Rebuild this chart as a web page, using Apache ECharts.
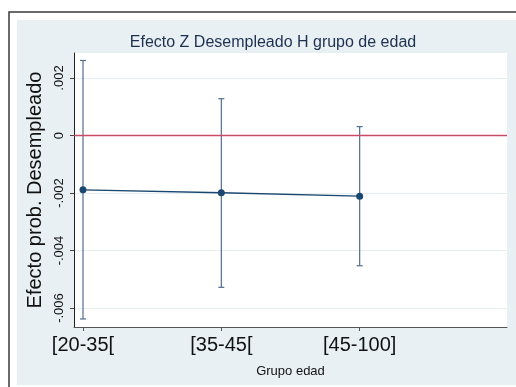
<!DOCTYPE html>
<html>
<head>
<meta charset="utf-8">
<script src="https://cdn.jsdelivr.net/npm/echarts@6/dist/echarts.min.js"></script>
<style>
  html, body { margin: 0; padding: 0; background: #fff; }
</style>
</head>
<body>
<div id="main" style="width: 516px; height: 387px;"></div>
<script>
// grupos de edad (posicion en el eje x y etiqueta)
var groupPos = [1, 2, 3]
var groupLabels = ['[20-35[', '[35-45[', '[45-100]']
// efecto estimado y limites del intervalo
var effect = [-0.00189, -0.00199, -0.00211]
var ciLow = [-0.00638, -0.00528, -0.00453]
var ciHigh = [0.00261, 0.00128, 0.00031]
// marcas del eje y
var yTicks = [-0.006, -0.004, -0.002, 0, 0.002]

function fmtY(v) {
  if (Math.abs(v) < 1e-12) return '0'
  var s = v.toFixed(3)
  return s.replace('0.', '.')
}

var chartDom = document.getElementById('main');
var myChart = echarts.init(chartDom);

var lineData = []
var barData = []
for (var i = 0; i < groupPos.length; i++) {
  lineData.push([groupPos[i], effect[i]])
  barData.push([groupPos[i], ciLow[i], ciHigh[i]])
}

var font = 'Liberation Sans, Arial, sans-serif'

var option = {
  backgroundColor: '#ffffff',
  animation: false,
  graphic: [
    {
      type: 'rect',
      z: -10,
      shape: { x: 9, y: 12, width: 520, height: 390 },
      style: { fill: '#ffffff', stroke: '#3a3a3a', lineWidth: 1.5 }
    },
    {
      type: 'rect',
      z: -9,
      shape: { x: 17, y: 20, width: 499, height: 365 },
      style: { fill: '#e9f0f3' }
    }
  ],
  title: {
    text: 'Efecto Z Desempleado H grupo de edad',
    left: 268,
    top: 30,
    textAlign: 'center',
    textStyle: { fontFamily: font, fontSize: 16, fontWeight: 'normal', color: '#1e3050' }
  },
  grid: {
    left: 74,
    top: 53,
    right: 9,
    bottom: 60,
    show: true,
    backgroundColor: '#ffffff',
    borderWidth: 0
  },
  xAxis: {
    type: 'value',
    min: 0.935,
    max: 4.065,
    name: 'Grupo edad',
    nameLocation: 'middle',
    nameGap: 38,
    nameTextStyle: { fontFamily: font, fontSize: 13, color: '#111' },
    axisLine: { show: true, onZero: false, lineStyle: { color: '#555', width: 1 } },
    axisTick: { show: true, length: 4, customValues: groupPos, lineStyle: { color: '#555' } },
    axisLabel: {
      customValues: groupPos,
      fontFamily: font,
      fontSize: 20,
      color: '#111',
      margin: 8,
      formatter: function (v) {
        var k = groupPos.indexOf(Math.round(v))
        return k >= 0 ? groupLabels[k] : ''
      }
    },
    splitLine: { show: false }
  },
  yAxis: {
    type: 'value',
    min: -0.00666,
    max: 0.00287,
    name: 'Efecto prob. Desempleado',
    nameLocation: 'middle',
    nameGap: 27,
    nameTextStyle: { fontFamily: font, fontSize: 20, color: '#111' },
    axisLine: { show: true, onZero: false, lineStyle: { color: '#222', width: 1 } },
    axisTick: { show: true, length: 4, customValues: yTicks, lineStyle: { color: '#444' } },
    axisLabel: {
      customValues: yTicks,
      rotate: 90,
      fontFamily: font,
      fontSize: 13,
      color: '#111',
      margin: 8,
      formatter: fmtY
    },
    splitLine: { show: true, lineStyle: { color: '#e6eef1', width: 1 } }
  },
  series: [
    {
      type: 'custom',
      name: 'ci',
      z: 2,
      data: barData,
      renderItem: function (params, api) {
        var x = api.value(0)
        var lo = api.coord([x, api.value(1)])
        var hi = api.coord([x, api.value(2)])
        var cap = 3
        var st = { stroke: '#4f6f8f', lineWidth: 1.2 }
        return {
          type: 'group',
          children: [
            { type: 'line', shape: { x1: lo[0], y1: lo[1], x2: hi[0], y2: hi[1] }, style: st },
            { type: 'line', shape: { x1: lo[0] - cap, y1: lo[1], x2: lo[0] + cap, y2: lo[1] }, style: st },
            { type: 'line', shape: { x1: hi[0] - cap, y1: hi[1], x2: hi[0] + cap, y2: hi[1] }, style: st }
          ]
        }
      }
    },
    {
      type: 'line',
      name: 'efecto',
      z: 3,
      data: lineData,
      symbol: 'circle',
      symbolSize: 7,
      lineStyle: { color: '#1a476f', width: 1.3 },
      itemStyle: { color: '#1a476f' },
      markLine: {
        silent: true,
        symbol: 'none',
        label: { show: false },
        lineStyle: { color: '#c94a66', width: 1.4, type: 'solid' },
        data: [{ yAxis: 0 }]
      }
    }
  ]
};

option && myChart.setOption(option);
</script>
</body>
</html>
